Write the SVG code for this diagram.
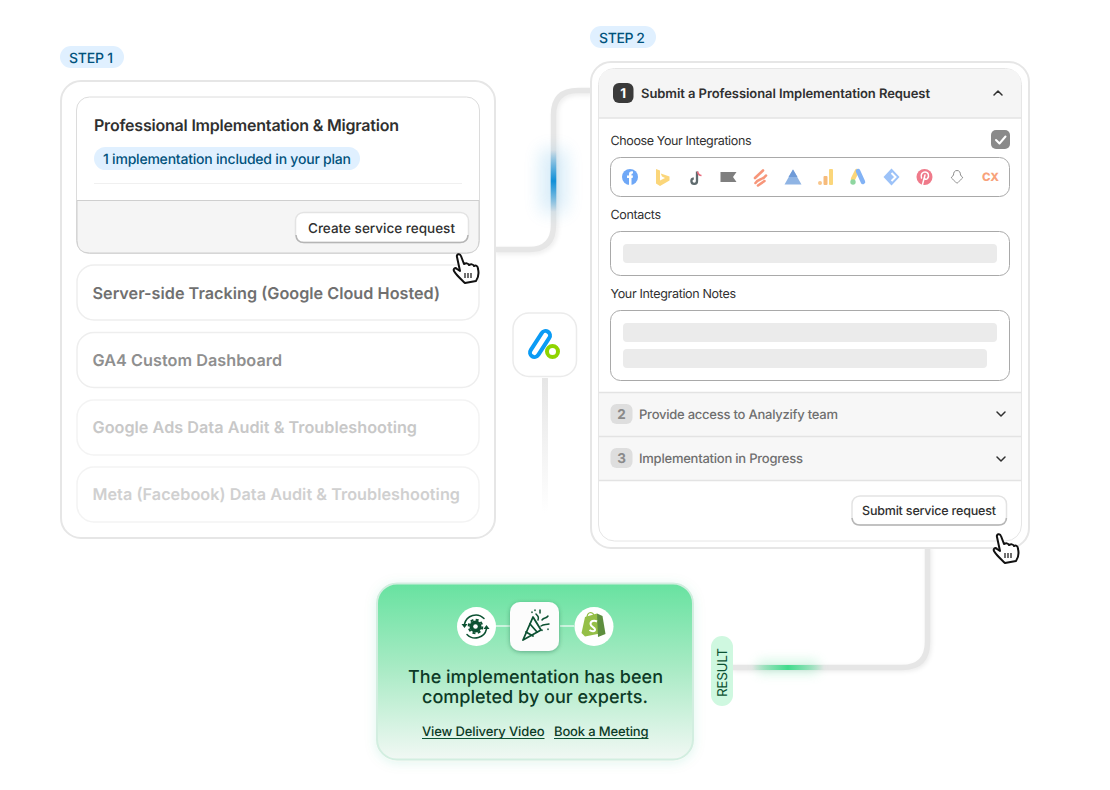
<svg xmlns="http://www.w3.org/2000/svg" width="1110" height="790" viewBox="0 0 1110 790">
<style>
text{font-family:Inter,"Noto Sans","Liberation Sans",sans-serif;text-rendering:geometricPrecision}
.panel{fill:#fff;stroke:#e6e6e6;stroke-width:2}
.card{fill:#fff;stroke:#eeeeee;stroke-width:1.500}
.pill{fill:#e0f0ff}
.pt{fill:#00527c;font-size:14px;font-weight:500}
.lab{fill:#303030;font-size:12.500px;font-weight:400}
.btn{fill:#fff;stroke:#e3e3e3;stroke-width:1.500}
.btnb{fill:none;stroke:#b5b5b5;stroke-width:1.500}
.field{fill:#fff;stroke:#a9a9a9;stroke-width:1}
.ph{fill:#ebebeb}
.conn{fill:none;stroke:#e6e6e6;stroke-width:5.500}
.sep{stroke:#e3e3e3;stroke-width:1.500}
.chev{fill:none;stroke:#303030;stroke-width:1.500;stroke-linecap:round;stroke-linejoin:round}
.hand{fill:#fff;stroke:#111;stroke-width:2;stroke-linejoin:round}
.dk{fill:#0c5132}
.dks{fill:none;stroke:#0c5132;stroke-linecap:round}
</style>
<defs>
<filter id="soft" x="-30%" y="-30%" width="160%" height="160%"><feGaussianBlur stdDeviation="2"/></filter>
<filter id="glow" x="-400%" y="-50%" width="900%" height="200%"><feGaussianBlur stdDeviation="9"/></filter>
<filter id="glowG" x="-50%" y="-400%" width="200%" height="900%"><feGaussianBlur stdDeviation="6"/></filter>
<filter id="sh" x="-30%" y="-30%" width="160%" height="170%"><feDropShadow dx="0" dy="1" stdDeviation="2" flood-color="#0c5132" flood-opacity=".4"/></filter>
<filter id="cardsh" x="-10%" y="-10%" width="120%" height="120%"><feDropShadow dx="0" dy="2" stdDeviation="6" flood-color="#2fb673" flood-opacity=".13"/></filter>
<linearGradient id="gCard" x1="0" y1="0" x2="0" y2="1"><stop offset="0" stop-color="#67e2a0"/><stop offset=".5" stop-color="#abebc6"/><stop offset="1" stop-color="#f1f8f4"/></linearGradient>
<linearGradient id="gBlue" x1="0" y1="0" x2="0" y2="1"><stop offset="0" stop-color="#0f8fd8" stop-opacity="0"/><stop offset=".5" stop-color="#0f8fd8"/><stop offset="1" stop-color="#0f8fd8" stop-opacity="0"/></linearGradient>
<linearGradient id="gGreen" x1="0" y1="0" x2="1" y2="0"><stop offset="0" stop-color="#40dc8c" stop-opacity="0"/><stop offset=".5" stop-color="#40dc8c"/><stop offset="1" stop-color="#40dc8c" stop-opacity="0"/></linearGradient>
<linearGradient id="gFade" x1="0" y1="0" x2="0" y2="1"><stop offset="0" stop-color="#e6e6e6"/><stop offset="1" stop-color="#e6e6e6" stop-opacity="0"/></linearGradient>
<path id="handp" d="M-5 -15C-6 -18 -2 -19 -1 -16L2 -8C4 -9 6 -9 7 -7C9 -8 11 -8 12 -6C14 -7 16 -6 16 -3C17 1 16 6 14 9L3 11C0 8 -6 3 -8 -1C-9 -3 -7 -5 -5 -3L-2 -1Z"/>
</defs>

<g id="connectors">
<path d="M496 252H530Q556 252 556 226V114Q556 93 580 93H592" fill="none" stroke="#000" stroke-opacity=".07" stroke-width="5" filter="url(#soft)"/>
<path class="conn" d="M495 249.500H529Q553.500 249.500 553.500 225V115Q553.500 90.500 578 90.500H592"/>
<rect x="541" y="150" width="25" height="62" fill="#0f8fd8" opacity=".17" filter="url(#glow)"/>
<rect x="550.700" y="150" width="5.600" height="62" fill="url(#gBlue)"/>
<rect x="542" y="378" width="6" height="135" fill="url(#gFade)"/>
<path d="M929 548V644Q929 669 904 669H733" fill="none" stroke="#000" stroke-opacity=".08" stroke-width="5" filter="url(#soft)"/>
<path class="conn" d="M927.500 546V642Q927.500 667.500 902 667.500H733"/>
<rect x="758" y="661" width="60" height="12" fill="#40dc8c" opacity=".25" filter="url(#glowG)"/>
<rect x="752" y="665" width="72" height="5" fill="url(#gGreen)"/>
</g>

<g id="step1-badge">
<rect class="pill" x="60" y="46" width="64" height="22" rx="11"/>
<text class="pt" x="69" y="62.500" textLength="44">STEP 1</text>
</g>
<g id="step1">
<rect class="panel" x="61" y="81" width="434" height="457" rx="20"/>
<g id="card-main">
<rect x="76.500" y="97" width="403" height="156.500" rx="13" fill="#fff" stroke="#dcdcdc"/>
<path d="M77 200.500H479V240.500Q479 253 466.500 253H89.500Q77 253 77 240.500Z" fill="#f5f5f5" stroke="#cfcfcf"/>
<text x="94" y="130.500" fill="#303030" font-size="16" font-weight="600" textLength="305">Professional Implementation &amp; Migration</text>
<rect class="pill" x="94" y="147" width="266" height="23" rx="11.500"/>
<text class="pt" x="103" y="163.500" textLength="248">1 implementation included in your plan</text>
<line x1="94" y1="183.500" x2="462" y2="183.500" stroke="#f0f0f0"/>
<rect class="btn" x="295.500" y="212.500" width="173" height="30" rx="8"/>
<path class="btnb" d="M296 235Q296.500 242.500 304 242.500H460Q467.500 242.500 468 235"/>
<text x="308" y="232.500" fill="#303030" font-size="13.500" font-weight="450" textLength="147">Create service request</text>
</g>
<g id="card-server"><rect class="card" x="77" y="265" width="402" height="55" rx="17"/><text x="92.500" y="298.500" fill="#707070" font-size="16.200" font-weight="600" textLength="347.500">Server-side Tracking (Google Cloud Hosted)</text></g>
<g id="card-ga4"><rect class="card" x="77" y="332.500" width="402" height="55" rx="17"/><text x="92.500" y="365.500" fill="#8f8f8f" font-size="16.200" font-weight="600" textLength="189.500">GA4 Custom Dashboard</text></g>
<g id="card-ads"><rect class="card" x="77" y="400" width="402" height="55" rx="17" stroke-opacity=".7"/><text x="92.500" y="433" fill="#c8c8c8" font-size="16.200" font-weight="600" textLength="324.500">Google Ads Data Audit &amp; Troubleshooting</text></g>
<g id="card-meta"><rect class="card" x="77" y="467" width="402" height="55" rx="17" stroke-opacity=".7"/><text x="92.500" y="500" fill="#d0d0d0" font-size="16.200" font-weight="600" textLength="367.500">Meta (Facebook) Data Audit &amp; Troubleshooting</text></g>
</g>
<g id="cursor-1" transform="translate(462,272)"><use href="#handp" class="hand"/><path d="M3 1V6M6 1V6M9 1V6" stroke="#111" stroke-width="1.200"/></g>

<g id="logo">
<rect x="513" y="313" width="63.500" height="63.500" rx="16" fill="#fff" stroke="#ebebeb" stroke-width="1.500"/>
<line x1="534.500" y1="352.500" x2="545.500" y2="335.500" stroke="#0a9bf5" stroke-width="13" stroke-linecap="round"/>
<line x1="534.500" y1="352.500" x2="545.500" y2="335.500" stroke="#fff" stroke-width="5" stroke-linecap="round"/>
<circle cx="552.500" cy="351.500" r="5.500" fill="#fff" stroke="#8fd400" stroke-width="4"/>
</g>

<g id="step2-badge">
<rect class="pill" x="590" y="26" width="66" height="22" rx="11"/>
<text class="pt" x="599" y="42.500" textLength="46">STEP 2</text>
</g>
<g id="step2">
<rect class="panel" x="591" y="62" width="438" height="486" rx="20"/>
<rect x="598.500" y="68.500" width="423" height="472.500" rx="16" fill="#fff" stroke="#e6e6e6"/>
<path d="M599 118V84.500Q599 69 614.500 69H1005.500Q1021 69 1021 84.500V118Z" fill="#f5f5f5"/>
<line x1="599" y1="118" x2="1021" y2="118" class="sep"/>
<rect x="613" y="83" width="20.500" height="20" rx="6" fill="#3a3a3a"/>
<text x="623.200" y="98" fill="#fff" font-size="13.500" font-weight="700" text-anchor="middle">1</text>
<text x="641" y="97.500" fill="#303030" font-size="13" font-weight="600" textLength="289">Submit a Professional Implementation Request</text>
<path class="chev" d="M994 95L998 91L1002 95"/>
<text class="lab" x="610.500" y="145" textLength="141">Choose Your Integrations</text>
<rect x="991" y="130" width="19" height="19" rx="5" fill="#8a8a8a"/>
<path d="M996 140L999.500 143.500L1005.500 136.500" fill="none" stroke="#fff" stroke-width="2" stroke-linecap="round" stroke-linejoin="round"/>
<rect class="field" x="610.500" y="157.500" width="399" height="39" rx="10"/>

<g id="icons">
<circle cx="630" cy="177" r="8" fill="#6fa8f7"/><path d="M629 185V178H627V175.500H629V174C629 172 630.500 171 633 171.500V173.500C631.500 173.300 631.500 174 631.500 175.500H633L632.600 178H631.500V185Z" fill="#fff"/>
<path d="M656 169L660 170.500V180.500L665 178L662 176.500L660.800 173.500L669.500 176.500V180.500L660 186L656 183.500Z" fill="#fbd67a"/>
<path d="M697 171.500V181A2.800 2.800 0 1 1 693.800 178.300" fill="none" stroke="#5f6b6e" stroke-width="2.300"/><path d="M697.500 171.500C698 174 699.500 175.500 701.500 175.500" fill="none" stroke="#e86a7d" stroke-width="1.500"/>
<path d="M720.500 172H736.500L733 177L736.500 182H720.500Z" fill="#7f7f7f"/>
<path d="M755 178L763 170.500M755.500 183C758 178 762 181 766 175.500M758 185.500L764.500 181" fill="none" stroke="#f7967a" stroke-width="2.600" stroke-linecap="round"/>
<path d="M793 169.500L801.500 184.500H784.500Z" fill="#8fb4e4"/><path d="M793 169.500L797.500 177H788.500Z" fill="#6f9bd8"/>
<rect x="818" y="181" width="4" height="4" rx="2" fill="#f8c68c"/><rect x="823.500" y="176" width="4" height="9" rx="1" fill="#f6bb7c"/><rect x="829" y="169" width="4" height="16" rx="1" fill="#fbd67a"/>
<path d="M857 171L853 179" stroke="#fbd67a" stroke-width="4.500" stroke-linecap="round"/><path d="M858 171L863 182" stroke="#82b2f5" stroke-width="4.500" stroke-linecap="round"/><circle cx="853" cy="182" r="2.700" fill="#8ed6a0"/>
<path d="M891.500 168.500L899.500 177L891.500 185.500L883.500 177Z" fill="#9cc2f8"/><path d="M891.500 173L895.500 177L891.500 181" fill="none" stroke="#fff" stroke-width="2"/>
<circle cx="924.500" cy="177" r="8" fill="#ef7a8a"/><path d="M921.500 178C920 174 923 172 925 172C928.500 172 929.500 176 927.500 178.500C926 180 924.500 179 924.500 178M925 175L922.500 184.500" fill="none" stroke="#fff" stroke-width="1.500" stroke-linecap="round"/>
<path d="M957 170.500C959.500 170.500 960.500 172.500 960.500 175C961 176.500 963 176.500 962.500 178C961 179 961 180 959.500 181C958 182 958 183 957 183C956 183 956 182 954.500 181C953 180 953 179 951.500 178C951 176.500 953 176.500 953.500 175C953.500 172.500 954.500 170.500 957 170.500Z" fill="#fff" stroke="#8c8c8c"/>
<text x="982" y="181" fill="#f8a27a" font-size="11.500" font-weight="800">CX</text>
</g>

<text class="lab" x="610.500" y="219" textLength="50.500">Contacts</text>
<rect class="field" x="610.500" y="231.500" width="399" height="44" rx="10"/>
<rect class="ph" x="623" y="244" width="374" height="19" rx="4"/>
<text class="lab" x="610.500" y="298" textLength="125.500">Your Integration Notes</text>
<rect class="field" x="610.500" y="310.500" width="399" height="70" rx="10"/>
<rect class="ph" x="623" y="323" width="374" height="19" rx="4"/>
<rect class="ph" x="623" y="349" width="364" height="19" rx="4"/>

<rect x="599" y="392.500" width="422" height="88" fill="#f7f7f7"/>
<line x1="599" y1="392.500" x2="1021" y2="392.500" class="sep"/>
<line x1="599" y1="436.500" x2="1021" y2="436.500" class="sep"/>
<line x1="599" y1="480.500" x2="1021" y2="480.500" class="sep"/>
<rect x="610.500" y="404" width="22" height="20" rx="6" fill="#dedede"/>
<text x="621.500" y="419" fill="#8a8a8a" font-size="13.500" font-weight="700" text-anchor="middle">2</text>
<text x="639" y="418.500" fill="#6f6f6f" font-size="13" font-weight="500" textLength="199">Provide access to Analyzify team</text>
<path class="chev" d="M997 412L1001 416L1005 412"/>
<rect x="610.500" y="448" width="22" height="20" rx="6" fill="#dedede"/>
<text x="621.500" y="463" fill="#8a8a8a" font-size="13.500" font-weight="700" text-anchor="middle">3</text>
<text x="639" y="462.500" fill="#6f6f6f" font-size="13" font-weight="500" textLength="164">Implementation in Progress</text>
<path class="chev" d="M997 457L1001 461L1005 457"/>

<rect class="btn" x="852" y="496" width="154.500" height="29" rx="8"/>
<path class="btnb" d="M852 518Q852.500 525 860 525H998.500Q1006 525 1006.500 518"/>
<text x="862" y="514.500" fill="#303030" font-size="12.500" font-weight="500" textLength="134">Submit service request</text>
</g>
<g id="cursor-2" transform="translate(1002,552)"><use href="#handp" class="hand"/><path d="M3 1V6M6 1V6M9 1V6" stroke="#111" stroke-width="1.200"/></g>

<g id="result-badge">
<rect x="711" y="636" width="22" height="70" rx="11" fill="#cff8e0"/>
<text transform="translate(727,697) rotate(-90)" fill="#0c5132" font-size="13.500" font-weight="400" textLength="49">RESULT</text>
</g>

<g id="result">
<rect x="377" y="583.500" width="316" height="176" rx="20" fill="url(#gCard)" stroke="#d2eee0" stroke-width="2" filter="url(#cardsh)"/>
<line x1="495" y1="626" x2="510" y2="626" stroke="#e2f8ec" stroke-width="1.500"/>
<line x1="560" y1="626" x2="574" y2="626" stroke="#e2f8ec" stroke-width="1.500"/>
<circle cx="476.500" cy="626.500" r="19.500" fill="#fff"/>
<circle cx="475.500" cy="626.500" r="6" class="dk"/><circle cx="475.500" cy="626.500" r="6.800" fill="none" stroke="#0c5132" stroke-width="2" stroke-dasharray="3 2.340"/>
<circle cx="475.500" cy="626.500" r="2.300" fill="#fff"/>
<path class="dks" stroke-width="1.500" d="M464.500 624A11.500 11.500 0 0 1 484 618.500M486.500 629A11.500 11.500 0 0 1 467 634.500"/>
<path class="dk" d="M461.500 624H467.500L464.500 628ZM483.500 629H489.500L486.500 625Z"/>
<rect x="510" y="602" width="49" height="49" rx="10" fill="#fcfcfc" filter="url(#sh)"/>
<path d="M523 640L533 617L541 630Z" fill="none" stroke="#0c5132" stroke-width="1.800" stroke-linejoin="round"/>
<path class="dks" stroke-width="1.800" d="M530 624L537 632M526 632L533 636"/>
<path class="dks" stroke-width="1.500" d="M536 614C538 616 539 617 538 620M542 620C544 617 546 619 548 616M541 626C544 624 546 625 549 624M535 610V610.500M532 612V612.500M540 610V613M548 629V629.500M542 630V630.500"/>
<circle cx="594" cy="626.500" r="19.500" fill="#fff"/>
<path d="M585 617L597 613.500L602.500 633L585 636.500L581.500 633Z" fill="#95bf47"/>
<path d="M597 613.500L602.500 616L605.500 634L598 637Z" fill="#5e8e3e"/>
<path d="M587 618C587 612 592 611 594 615" fill="none" stroke="#95bf47" stroke-width="1.300"/>
<path d="M597 621.500C594 620 590.500 621 590.500 624C590.500 627 595 627 595 629.500C595 632 591.500 631.500 589.500 630" fill="none" stroke="#fff" stroke-width="2"/>
<text x="408" y="682.500" fill="#0c3a26" font-size="18" font-weight="500" textLength="255">The implementation has been</text>
<text x="422" y="703" fill="#0c3a26" font-size="18" font-weight="500" textLength="226">completed by our experts.</text>
<text x="422" y="735.500" fill="#0c3a26" font-size="13" font-weight="500" textLength="122.500">View Delivery Video</text>
<line x1="422" y1="738.500" x2="544.500" y2="738.500" stroke="#0c5132" stroke-width="1"/>
<text x="554" y="735.500" fill="#0c3a26" font-size="13" font-weight="500" textLength="94.500">Book a Meeting</text>
<line x1="554" y1="738.500" x2="648.500" y2="738.500" stroke="#0c5132" stroke-width="1"/>
</g>
</svg>
